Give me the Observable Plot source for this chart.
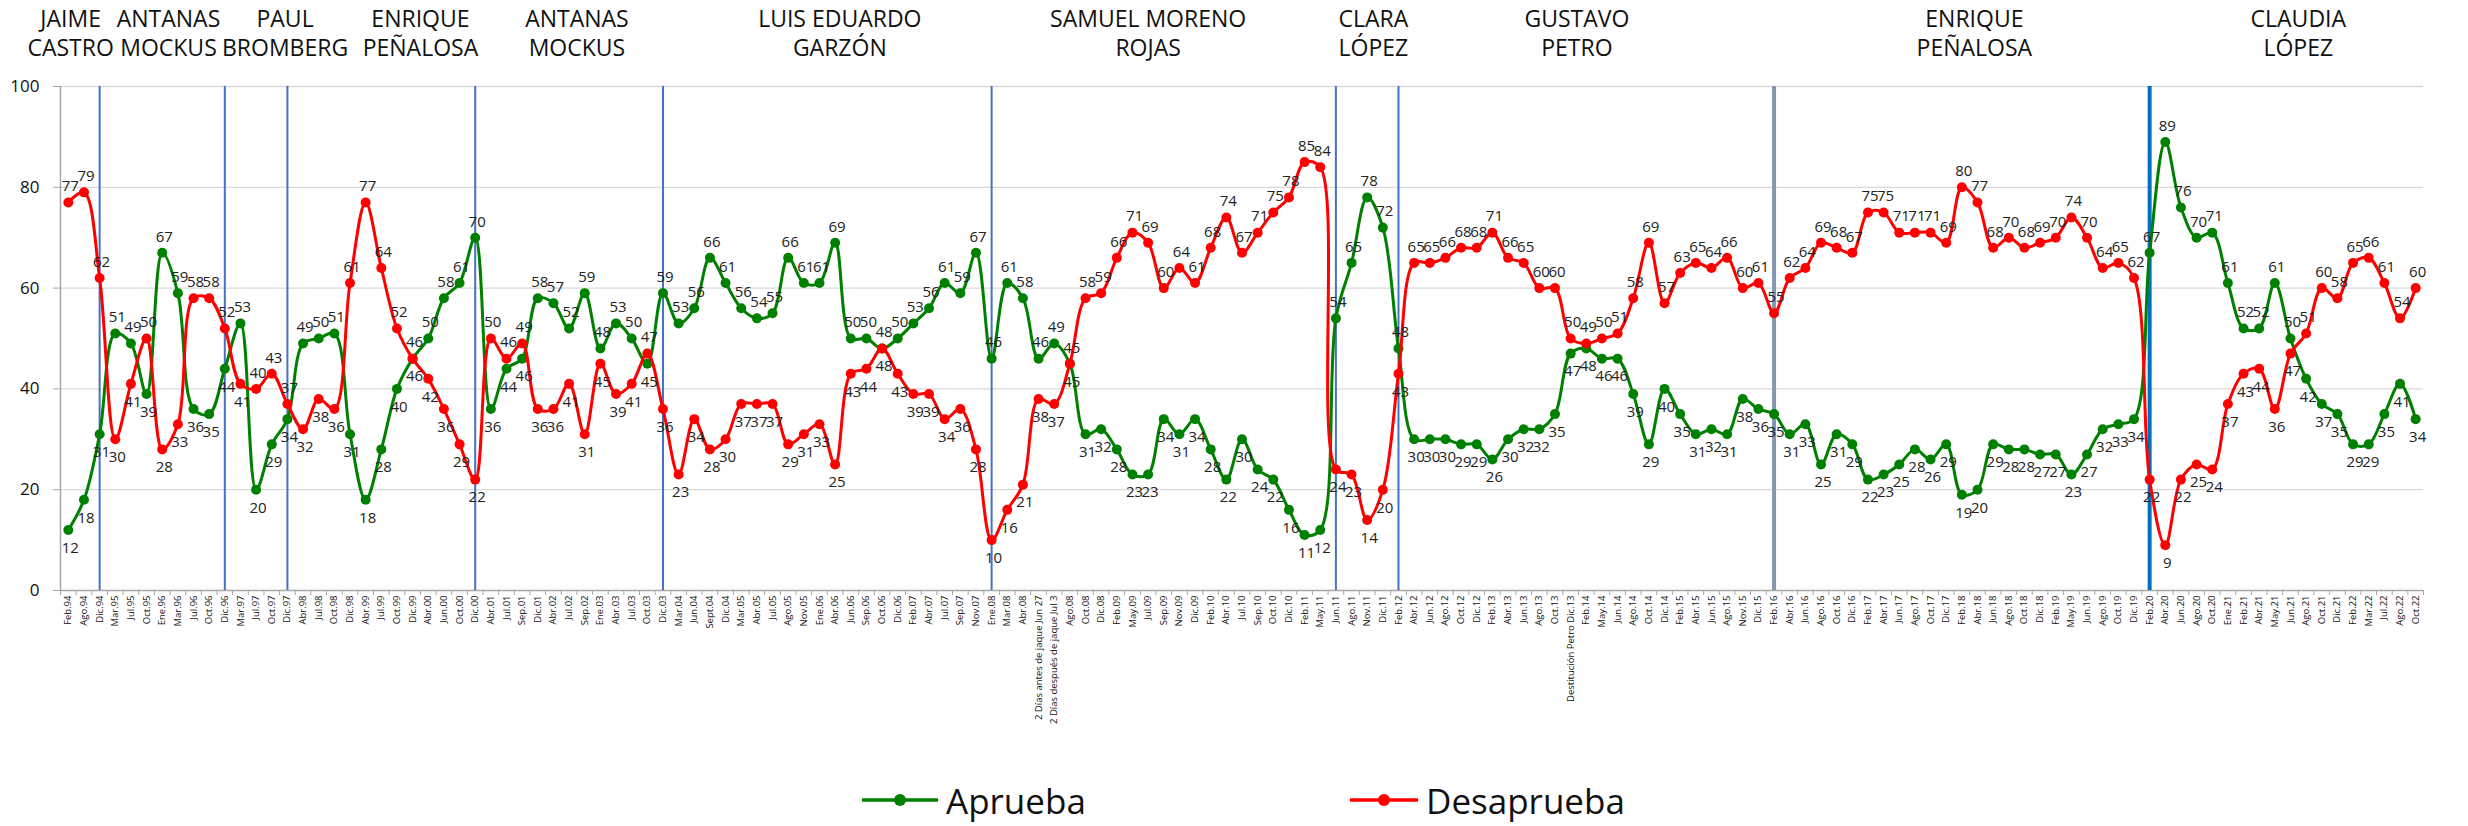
<!DOCTYPE html>
<html><head><meta charset="utf-8">
<script src="https://cdn.jsdelivr.net/npm/d3@7"></script>
<script src="https://cdn.jsdelivr.net/npm/@observablehq/plot@0.6"></script>
<style>
body{margin:0;background:#fff;font-family:"Open Sans",sans-serif;width:2468px;height:826px;position:relative;overflow:hidden;}
#chart{position:absolute;left:0;top:0;}
.leg{position:absolute;top:776px;height:48px;display:flex;align-items:center;font-size:35px;color:#111;}
.leg svg{margin-right:8px;}
</style></head><body>
<div id="chart"></div>
<div class="leg" style="left:862px"><svg width="76" height="20"><line x1="0" x2="76" y1="10" y2="10" stroke="#008000" stroke-width="3.5"/><circle cx="38" cy="10" r="6" fill="#008000"/></svg>Aprueba</div>
<div class="leg" style="left:1350px"><svg width="68" height="20"><line x1="0" x2="68" y1="10" y2="10" stroke="#ff0000" stroke-width="3.5"/><circle cx="34" cy="10" r="6" fill="#ff0000"/></svg>Desaprueba</div>
<script>
const fechas = ["Feb.94","Ago.94","Dic.94","Mar.95","Jul.95","Oct.95","Ene.96","Mar.96","Jul.96","Oct.96","Dic.96","Mar.97","Jul.97","Oct.97","Dic.97","Abr.98","Jul.98","Oct.98","Dic.98","Abr.99","Jul.99","Oct.99","Dic.99","Abr.00","Jun.00",
"Oct.00","Dic.00","Abr.01","Jul.01","Sep.01","Dic.01","Abr.02","Jul.02","Sep.02","Ene.03","Abr.03","Jul.03","Oct.03","Dic.03","Mar.04","Jun.04","Sept.04","Dic.04","Mar.05","Abr.05","Jul.05","Ago.05","Nov.05","Ene.06","Abr.06","Jun.06",
"Sep.06","Oct.06","Dic.06","Feb.07","Abr.07","Jul.07","Sep.07","Nov.07","Ene.08","Mar.08","Abr.08","2 Días antes de jaque Jun 27","2 Días después de jaque Jul 3","Ago.08","Oct.08","Dic.08","Feb.09","May.09","Jul.09","Sep.09","Nov.09","Dic.09","Feb.10","Abr.10","Jul.10",
"Sep.10","Oct.10","Dic.10","Feb.11","May.11","Jun.11","Ago.11","Nov.11","Dic.11","Feb.12","Abr.12","Jun.12","Ago.12","Oct.12","Dic.12","Feb.13","Abr.13","Jun.13","Ago.13","Oct.13","Destitución Petro Dic.13","Feb.14","May.14","Jun.14","Ago.14","Oct.14",
"Dic.14","Feb.15","Abr.15","Jun.15","Ago.15","Nov.15","Dic.15","Feb.16","Abr.16","Jun.16","Ago.16","Oct.16","Dic.16","Feb.17","Abr.17","Jun.17","Ago.17","Oct.17","Dic.17","Feb.18","Abr.18","Jun.18","Ago.18","Oct.18","Dic.18",
"Feb.19","May.19","Jun.19","Ago.19","Oct.19","Dic.19","Feb.20","Abr.20","Jun.20","Ago.20","Oct.20","Ene.21","Feb.21","Abr.21","May.21","Jun.21","Ago.21","Oct.21","Dic.21","Feb.22","Mar.22","Jul.22","Ago.22","Oct.22"];

const aprueba = [12,18,31,51,49,39,67,59,36,35,
44,53,20,29,34,49,50,51,31,18,
28,40,46,50,58,61,70,36,44,46,
58,57,52,59,48,53,50,45,59,53,
56,66,61,56,54,55,66,61,61,69,
50,50,48,50,53,56,61,59,67,46,
61,58,46,49,45,31,32,28,23,23,
34,31,34,28,22,30,24,22,16,11,
12,54,65,78,72,48,30,30,30,29,
29,26,30,32,32,35,47,48,46,46,
39,29,40,35,31,32,31,38,36,35,
31,33,25,31,29,22,23,25,28,26,
29,19,20,29,28,28,27,27,23,27,
32,33,34,67,89,76,70,71,61,52,
52,61,50,42,37,35,29,29,35,41,34];

const desaprueba = [77,79,62,30,41,50,28,33,58,58,
52,41,40,43,37,32,38,36,61,77,
64,52,46,42,36,29,22,50,46,49,
36,36,41,31,45,39,41,47,36,23,
34,28,30,37,37,37,29,31,33,25,
43,44,48,43,39,39,34,36,28,10,
16,21,38,37,45,58,59,66,71,69,
60,64,61,68,74,67,71,75,78,85,
84,24,23,14,20,43,65,65,66,68,
68,71,66,65,60,60,50,49,50,51,
58,69,57,63,65,64,66,60,61,55,
62,64,69,68,67,75,75,71,71,71,
69,80,77,68,70,68,69,70,74,70,
64,65,62,22,9,22,25,24,37,43,
44,36,47,51,60,58,65,66,61,54,60];

const cambios = ["Dic.94","Dic.96","Dic.97","Dic.00","Dic.03","Ene.08","Jun.11","Feb.12","Feb.16","Feb.20"];

const alcaldes = ["JAIME\nCASTRO","ANTANAS\nMOCKUS","PAUL\nBROMBERG","ENRIQUE\nPEÑALOSA","ANTANAS\nMOCKUS","LUIS EDUARDO\nGARZÓN","SAMUEL MORENO\nROJAS","CLARA\nLÓPEZ","GUSTAVO\nPETRO","ENRIQUE\nPEÑALOSA","CLAUDIA\nLÓPEZ"];
const alcaldesEn = [0.15, 6.4, 13.85, 22.5, 32.5, 49.3, 69, 83.4, 96.4, 121.8, 142.5];

const yTicks = [0,20,40,60,80,100];

const verde = "#008000", rojo = "#ff0000";
const rows = fechas.map((f, i) => ({i, f, a: aprueba[i], d: desaprueba[i]}));
const idx = cambios.map(c => fechas.indexOf(c));

const chart = Plot.plot({
  width: 2468, height: 760,
  marginLeft: 60, marginRight: 45, marginTop: 86, marginBottom: 170,
  style: {fontFamily: "Open Sans, sans-serif", background: "#fff", overflow: "visible", color: "#111"},
  x: {type: "linear", domain: [-0.5, fechas.length - 0.5]},
  y: {domain: [0, 100]},
  marks: [
    Plot.ruleY(yTicks.filter(t => t > 0), {stroke: "#d9d9d9", strokeWidth: 1.3}),
    Plot.axisY(yTicks, {tickSize: 7, tickPadding: 14, fontSize: 17, stroke: "#a6a6a6", label: null}),
    Plot.axisX(d3.range(fechas.length + 1).map(i => i - 0.5), {tickSize: 5, tickFormat: () => "", stroke: "#a6a6a6", label: null}),
    Plot.axisX(d3.range(fechas.length), {tickFormat: i => fechas[i], tickRotate: -90, tickSize: 0, tickPadding: 5, fontSize: 9.5, label: null}),
    Plot.ruleY([0], {stroke: "#a6a6a6", strokeWidth: 1.5}),
    Plot.ruleX([-0.5], {stroke: "#a6a6a6", strokeWidth: 1.5}),
    Plot.ruleX(idx.slice(0, 8), {y1: 0, y2: 100, stroke: "#4472c4", strokeWidth: 2}),
    Plot.ruleX(idx.slice(8, 9), {y1: 0, y2: 100, stroke: "#8497b0", strokeWidth: 4}),
    Plot.ruleX(idx.slice(9), {y1: 0, y2: 100, stroke: "#0070c0", strokeWidth: 4}),
    Plot.text(alcaldes, {x: (d, i) => alcaldesEn[i], text: d => d, frameAnchor: "top", lineAnchor: "top", dy: -80, fontSize: 23, lineHeight: 1.25, fill: "#111"}),
    Plot.line(rows, {x: "i", y: "a", stroke: verde, strokeWidth: 3, curve: "catmull-rom"}),
    Plot.dot(rows, {x: "i", y: "a", r: 5, fill: verde}),
    Plot.line(rows, {x: "i", y: "d", stroke: rojo, strokeWidth: 3, curve: "catmull-rom"}),
    Plot.dot(rows, {x: "i", y: "d", r: 5, fill: rojo}),
    Plot.text(rows.filter(r => r.a >= r.d), {x: "i", y: "a", text: "a", dy: -16, dx: 2, fontSize: 15, fill: "#222"}),
    Plot.text(rows.filter(r => r.a < r.d), {x: "i", y: "a", text: "a", dy: 18, dx: 2, fontSize: 15, fill: "#222"}),
    Plot.text(rows.filter(r => r.d > r.a), {x: "i", y: "d", text: "d", dy: -16, dx: 2, fontSize: 15, fill: "#222"}),
    Plot.text(rows.filter(r => r.d <= r.a), {x: "i", y: "d", text: "d", dy: 18, dx: 2, fontSize: 15, fill: "#222"})
  ]
});
document.getElementById("chart").appendChild(chart);
</script>
</body></html>
